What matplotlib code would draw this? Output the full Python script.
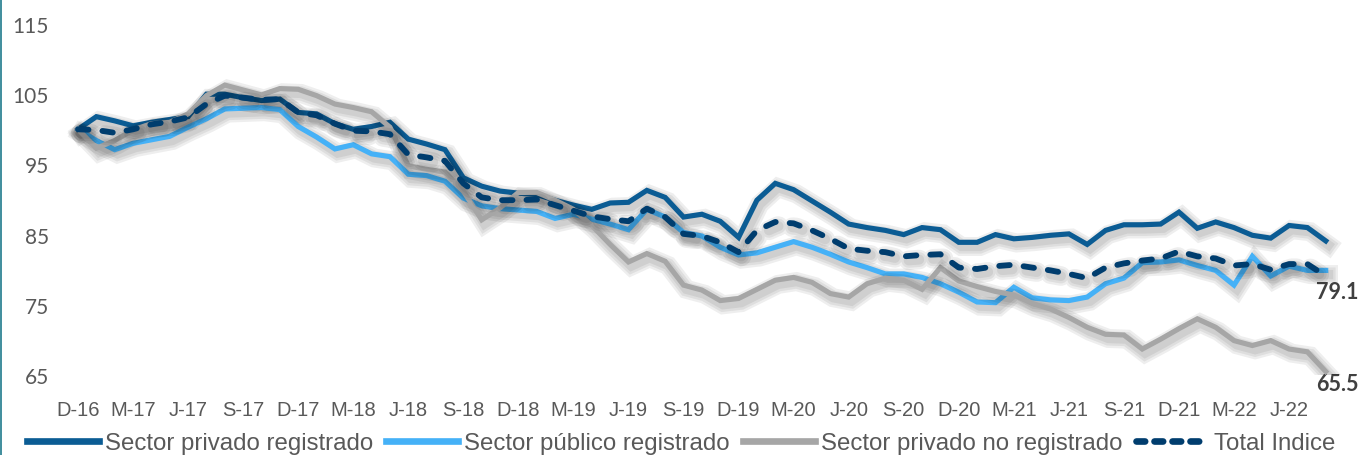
import numpy as np
import matplotlib
matplotlib.use("Agg")
import matplotlib.pyplot as plt
import matplotlib.patheffects as pe
from matplotlib.lines import Line2D

# ---- data (Dec-2016 .. Aug-2022, monthly) ----
privado_registrado = [
    100.0, 101.8, 101.2, 100.5, 101.0, 101.4, 101.8, 105.0, 105.0, 104.5,
    104.1, 104.3, 102.4, 102.2, 100.8, 100.0, 100.4, 101.0, 98.6, 97.9,
    97.1, 93.1, 91.9, 91.2, 90.9, 90.7, 89.9, 89.2, 88.6, 89.5,
    89.6, 91.3, 90.3, 87.5, 87.9, 86.9, 84.6, 89.9, 92.3, 91.4,
    89.8, 88.2, 86.5, 86.0, 85.6, 85.0, 86.0, 85.7, 83.9, 83.9,
    85.0, 84.4, 84.6, 84.9, 85.1, 83.6, 85.6, 86.4, 86.4, 86.5,
    88.2, 85.9, 86.8, 86.0, 84.9, 84.5, 86.3, 86.0, 84.1]

publico_registrado = [
    100.0, 98.4, 97.1, 98.0, 98.5, 99.0, 100.3, 101.5, 102.9, 103.0,
    103.1, 102.8, 100.4, 98.9, 97.2, 97.8, 96.5, 96.1, 93.6, 93.4,
    92.6, 90.2, 89.1, 88.7, 88.5, 88.3, 87.3, 87.9, 87.2, 86.5,
    85.7, 88.6, 87.5, 85.3, 84.8, 83.2, 82.1, 82.4, 83.2, 84.0,
    83.2, 82.2, 81.1, 80.3, 79.4, 79.4, 78.9, 78.0, 76.8, 75.4,
    75.3, 77.5, 76.0, 75.7, 75.6, 76.1, 78.0, 78.8, 81.0, 81.1,
    81.4, 80.6, 79.9, 77.8, 81.9, 79.1, 80.5, 79.9, 79.9]

privado_no_registrado = [
    100.0, 97.3, 98.4, 99.9, 100.8, 101.0, 102.2, 104.8, 106.3, 105.6,
    104.9, 105.8, 105.7, 104.8, 103.6, 103.1, 102.5, 100.3, 94.8, 94.3,
    93.9, 91.2, 87.1, 88.8, 91.0, 91.0, 89.9, 88.6, 86.3, 83.6,
    81.1, 82.3, 81.2, 77.8, 77.1, 75.6, 75.9, 77.2, 78.5, 78.9,
    78.2, 76.6, 76.1, 78.0, 78.8, 78.5, 77.2, 80.3, 78.4, 77.6,
    76.9, 76.4, 75.2, 74.4, 73.2, 71.8, 70.8, 70.7, 68.7, 70.1,
    71.6, 73.0, 71.8, 69.9, 69.2, 69.9, 68.7, 68.3, 65.5]

total_indice = [
    100.0, 99.9, 99.5, 100.0, 100.7, 101.1, 101.7, 103.6, 104.8, 104.5,
    104.2, 104.3, 102.4, 102.0, 100.8, 99.8, 99.7, 99.3, 96.4, 96.0,
    95.5, 92.3, 90.3, 89.9, 89.9, 90.0, 89.2, 88.4, 87.6, 87.2,
    86.9, 88.7, 87.5, 85.1, 84.8, 83.9, 82.5, 85.6, 86.8, 86.6,
    85.6, 84.4, 83.0, 82.7, 82.5, 81.9, 82.1, 82.2, 80.3, 80.1,
    80.5, 80.7, 80.3, 79.9, 79.4, 78.8, 80.3, 80.9, 81.3, 81.6,
    82.6, 81.9, 81.6, 80.6, 80.8, 80.0, 80.8, 80.8, 79.1]

tick_labels = ["D-16", "M-17", "J-17", "S-17", "D-17", "M-18", "J-18", "S-18",
               "D-18", "M-19", "J-19", "S-19", "D-19", "M-20", "J-20", "S-20",
               "D-20", "M-21", "J-21", "S-21", "D-21", "M-22", "J-22"]

series_names = ["Sector privado registrado", "Sector público registrado",
                "Sector privado no registrado", "Total Indice"]

# ---- figure ----
W, H = 1362, 456
fig = plt.figure(figsize=(W / 100, H / 100), dpi=100)
ax = fig.add_axes([60 / W, 1 - 376 / H, 1285 / W, 351 / H])

x = np.arange(len(total_indice))

def shadow(lw):
    return [pe.SimpleLineShadow(offset=(2, -3), shadow_color="black",
                                alpha=0.065, rho=1.0, linewidth=lw + k)
            for k in (10, 6.5, 3)] + [pe.Normal()]

c_priv = "#0B5C94"
c_pub = "#45B1F7"
c_nr = "#A6A6A6"
c_tot = "#003D6E"

lw = 3.7
ax.plot(x, privado_registrado, color=c_priv, lw=lw, solid_joinstyle="miter",
        path_effects=shadow(lw), zorder=2)
ax.plot(x, publico_registrado, color=c_pub, lw=lw, solid_joinstyle="miter",
        path_effects=shadow(lw), zorder=3)
ax.plot(x, privado_no_registrado, color=c_nr, lw=lw, solid_joinstyle="miter",
        path_effects=shadow(lw), zorder=4)
ax.plot(x, total_indice, color=c_tot, lw=4.2, dashes=(1.8, 2.4),
        dash_capstyle="round", path_effects=shadow(4.2), zorder=5)

ax.set_xlim(-0.981, 69.05)
ax.set_ylim(65, 115)
ax.set_yticks(range(65, 116, 10))
ax.set_xticks(x[::3])
ax.set_xticklabels(tick_labels)
for s in ax.spines.values():
    s.set_visible(False)
ax.tick_params(axis="y", length=0, pad=8, labelsize=15, labelcolor="#595959")
ax.tick_params(axis="x", length=0, pad=18, labelsize=14.5, labelcolor="#595959")
for t in ax.get_yticklabels():
    t.set_fontfamily("Lato")
for t in ax.get_xticklabels():
    t.set_fontfamily("Liberation Sans")

# end labels
ax.annotate(f"{total_indice[-1]:.1f}", xy=(x[-1], total_indice[-1]),
            xytext=(12, -15), textcoords="offset pixels", ha="center", va="center",
            fontsize=15.5, fontweight="bold", color="#404040", family="Lato",
            annotation_clip=False)
ax.annotate(f"{privado_no_registrado[-1]:.1f}", xy=(x[-1], privado_no_registrado[-1]),
            xytext=(12, -12), textcoords="offset pixels", ha="center", va="center",
            fontsize=15.5, fontweight="bold", color="#404040", family="Lato",
            annotation_clip=False)

# legend
handles = [Line2D([], [], color=c_priv, lw=4.8),
           Line2D([], [], color=c_pub, lw=4.8),
           Line2D([], [], color=c_nr, lw=4.8),
           Line2D([], [], color=c_tot, lw=4.8, dashes=(1.3, 1.4), dash_capstyle="round")]
leg = fig.legend(handles, series_names, loc="center", bbox_to_anchor=(0.5, 1 - 444 / H),
                 ncol=4, frameon=False, handlelength=3.0, handletextpad=0.25,
                 columnspacing=0.55, prop={"family": "Liberation Sans", "size": 17.3})
for t in leg.get_texts():
    t.set_color("#595959")

# thin left border
fig.add_artist(Line2D([0.5 / W, 0.5 / W], [0, 1], color="#1F7A8C", lw=1.2,
                      transform=fig.transFigure))

fig.savefig("out.png", dpi=100)
